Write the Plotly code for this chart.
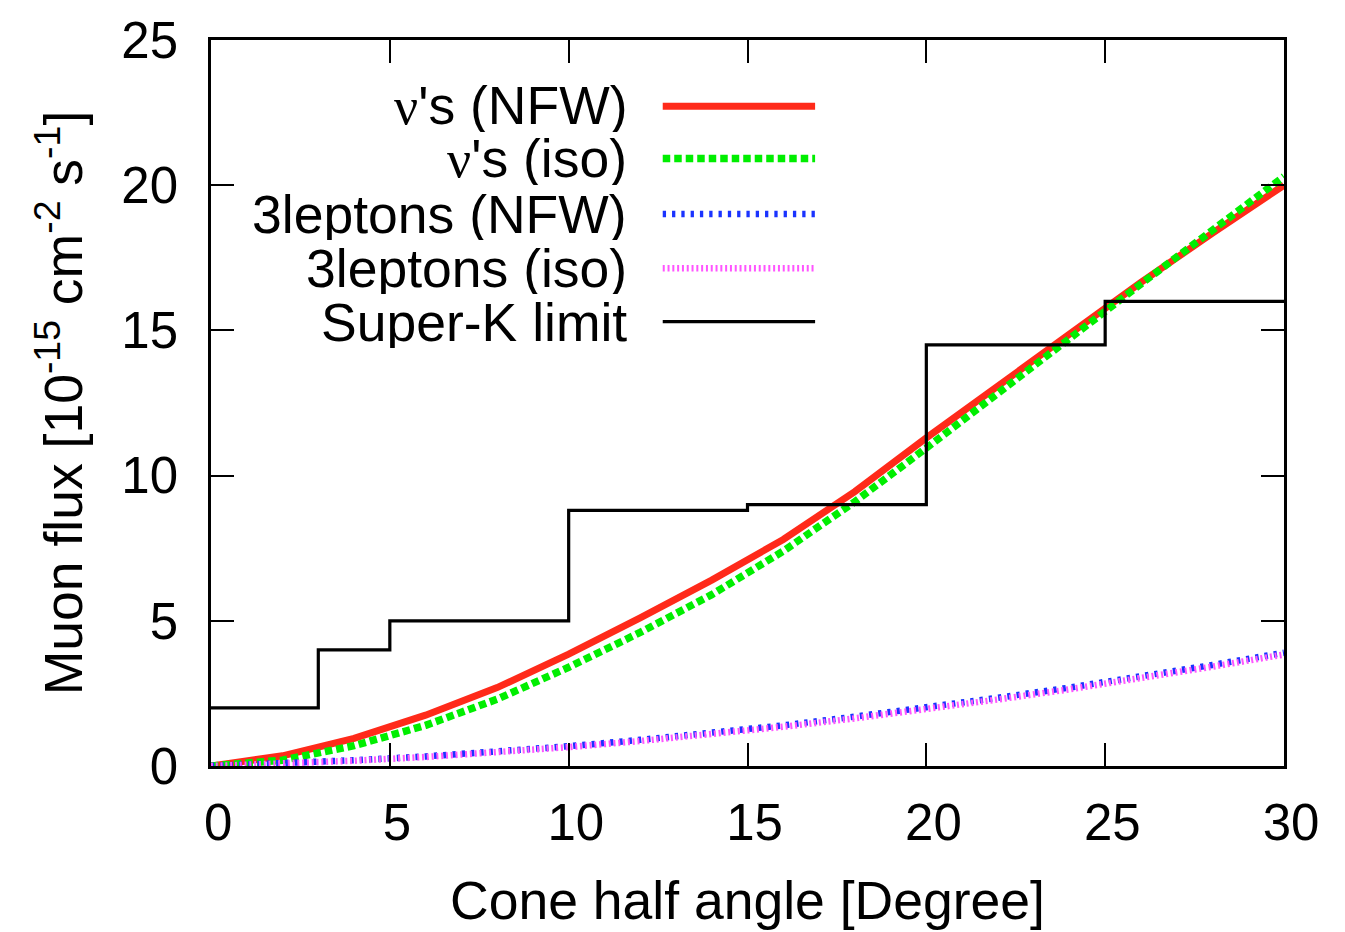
import plotly.graph_objects as go

# ---- data ----
angle = [0, 2, 4, 6, 8, 10, 12, 14, 16, 18, 20, 22, 24, 26, 28, 30]
nu_nfw = [0.0, 0.35, 0.95, 1.75, 2.7, 3.85, 5.1, 6.4, 7.8, 9.45, 11.3, 13.1, 14.85, 16.65, 18.35, 20.0]
nu_iso = [0.0, 0.2, 0.7, 1.4, 2.3, 3.4, 4.6, 5.9, 7.4, 9.1, 10.95, 12.85, 14.7, 16.6, 18.45, 20.3]
lep_nfw = [0.0, 0.08, 0.2, 0.33, 0.5, 0.68, 0.9, 1.13, 1.4, 1.7, 2.0, 2.35, 2.7, 3.08, 3.48, 3.9]
lep_iso = [0.0, 0.07, 0.18, 0.31, 0.47, 0.65, 0.86, 1.09, 1.35, 1.64, 1.95, 2.29, 2.64, 3.02, 3.42, 3.84]
sk_edges = [0, 3, 5, 10, 15, 20, 25, 30]
sk_limit = [2.0, 4.0, 5.0, 8.8, 9.0, 14.5, 16.0, 16.0]

x_ticks = [0, 5, 10, 15, 20, 25, 30]
y_ticks = [0, 5, 10, 15, 20, 25]

NU = "<span style='font-family:Liberation Serif, Times New Roman, serif'>\u03bd</span>"
legend_names = [NU + "'s (NFW)", NU + "'s (iso)", "3leptons (NFW)", "3leptons (iso)", "Super-K limit"]

FONT = "Liberation Sans, Arial, Helvetica, sans-serif"

styles = [
    dict(color="#ff2a1a", width=7, dash="solid"),
    dict(color="#00ee00", width=7.5, dash="7.5px,4px"),
    dict(color="#1a33ff", width=6.5, dash="3.3px,6px"),
    dict(color="#ff55ff", width=6.5, dash="2px,2.8px"),
    dict(color="#000000", width=3.2, dash="solid"),
]

fig = go.Figure()
series = [nu_nfw, nu_iso, lep_nfw, lep_iso]
for ys, st, nm in zip(series, styles[:4], legend_names[:4]):
    fig.add_trace(go.Scatter(x=angle, y=ys, mode="lines", name=nm,
                             line=dict(color=st["color"], width=st["width"], dash=st["dash"]),
                             showlegend=False))
fig.add_trace(go.Scatter(x=sk_edges, y=sk_limit, mode="lines", name=legend_names[4],
                         line=dict(color="black", width=styles[4]["width"], shape="hv"),
                         showlegend=False))

# custom legend (text right-aligned, sample line on the right, like gnuplot)
leg_y = [0.9088, 0.8367, 0.7605, 0.6857, 0.6122]
for nm, st, yy in zip(legend_names, styles, leg_y):
    fig.add_annotation(xref="paper", yref="paper", x=0.39, y=yy, text=nm,
                       showarrow=False, xanchor="right", yanchor="middle", height=52,
                       font=dict(family=FONT, size=53.5, color="black"))
    fig.add_shape(type="line", xref="paper", yref="paper", x0=0.421, x1=0.563, y0=yy, y1=yy,
                  line=dict(color=st["color"], width=st["width"], dash=st["dash"]))

axis_common = dict(
    showline=True, linecolor="black", linewidth=2.5, mirror="allticks",
    ticks="inside", ticklen=23, tickwidth=2, tickcolor="black",
    showgrid=False, zeroline=False,
    tickfont=dict(family=FONT, size=51, color="black"),
)

fig.update_xaxes(range=[0, 30], tickvals=x_ticks,
                 ticktext=["\u00a0" + str(v) for v in x_ticks], ticklabelstandoff=10,
                 title=dict(text="Cone half angle [Degree]", standoff=32,
                            font=dict(family=FONT, size=53.5, color="black")),
                 **axis_common)
fig.update_yaxes(range=[0, 25], tickvals=y_ticks, ticklabelstandoff=20,
                 title=dict(text="Muon flux [10<sup>-15</sup> cm<sup>-2</sup> s<sup>-1</sup>]", standoff=22,
                            font=dict(family=FONT, size=53.5, color="black")),
                 **axis_common)

fig.update_layout(
    width=1345, height=932,
    margin=dict(l=211, r=61, t=35, b=162),
    paper_bgcolor="white", plot_bgcolor="white",
    font=dict(family=FONT, color="black"),
)

fig.write_html("out.html")
